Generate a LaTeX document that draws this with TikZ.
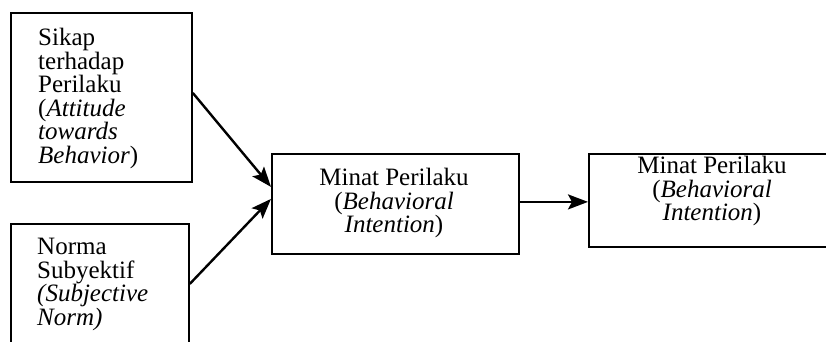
\documentclass[tikz,border=0pt]{standalone}
\usepackage{fontspec}
\setmainfont{Liberation Serif}
\usetikzlibrary{arrows.meta}
\begin{document}
\begin{tikzpicture}[x=1pt,y=-1pt,
  box/.style={draw=black,line width=1.8pt,rectangle,anchor=north west,inner sep=0pt},
  txt/.style={inner sep=0pt,font=\fontsize{25}{23.5}\selectfont},
  arr/.style={line width=2.4pt,-{Stealth[length=20pt,width=15pt,inset=4pt]}}]
\useasboundingbox (0,0) rectangle (826,342);
\clip (0,0) rectangle (826,342);
\fill[white] (0,0) rectangle (826,342);
% boxes
\node[box,minimum width=181pt,minimum height=169pt] (b1) at (10,12) {};
\node[box,minimum width=178pt,minimum height=120pt] (b2) at (10,223) {};
\node[box,minimum width=247pt,minimum height=100pt] (b3) at (271,153) {};
\node[box,minimum width=262pt,minimum height=93pt] (b4) at (588,153) {};
% texts
\node[txt,anchor=north west,align=left] (t1) at (38,28)
  {Sikap\\terhadap\\Perilaku\\(\textit{Attitude}\\\textit{towards}\\\textit{Behavior})};
\node[txt,anchor=north west,align=left] (t2) at (37,238)
  {Norma\\Subyektif\\\textit{(Subjective}\\\textit{Norm)}};
\node[txt,anchor=north,align=center] (t3) at (394,168)
  {Minat Perilaku\\(\textit{Behavioral}\\\textit{Intention})};
\node[txt,anchor=north,align=center] (t4) at (712,156)
  {Minat Perilaku\\(\textit{Behavioral}\\\textit{Intention})};
% connectors
\draw[arr] ([yshift=4.5pt]b1.east) -- ([yshift=17pt]b3.west);
\draw[arr] (b2.east) -- ([yshift=5pt]b3.west);
\draw[arr] ([yshift=2pt]b3.east) -- ([yshift=2pt]b3.east -| b4.west);
\end{tikzpicture}
\end{document}
